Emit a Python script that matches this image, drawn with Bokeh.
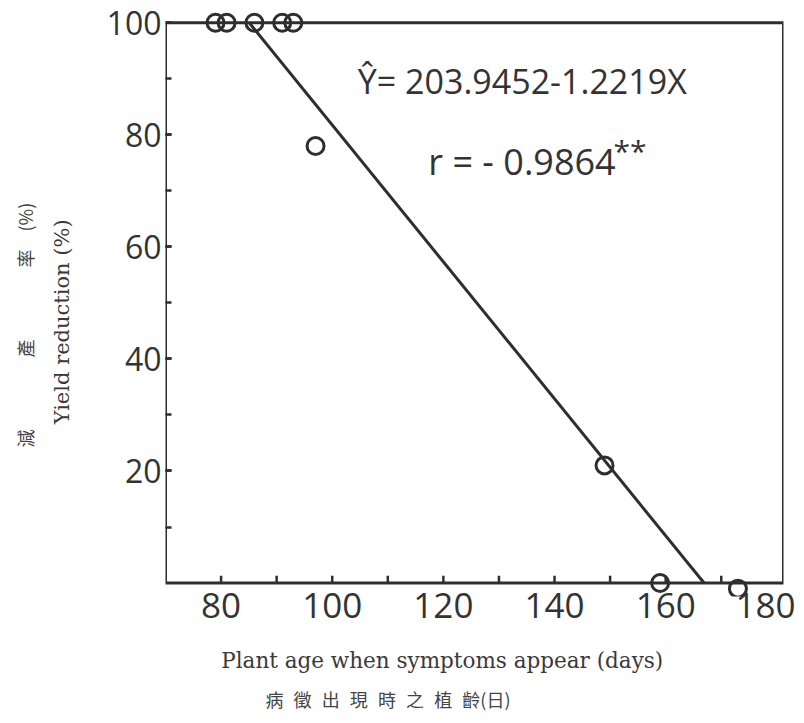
import math
from bokeh.plotting import figure
from bokeh.models import (Range1d, FixedTicker, BoxAnnotation, Label, Title, ColumnDataSource)
from bokeh.embed import file_html
from bokeh.resources import INLINE

# ---- data ----
plant_age = [79, 81, 86, 91, 93, 97, 149, 159, 173]
yield_reduction = [100, 100, 100, 100, 100, 78, 21, 0, -1]

intercept = 203.9452
slope = -1.2219

x_major_ticks = [80, 100, 120, 140, 160, 180]
x_minor_ticks = [80, 90, 100, 110, 120, 130, 140, 150, 160, 170]
y_major_ticks = [20, 40, 60, 80, 100]
y_minor_ticks = [10, 20, 30, 40, 50, 60, 70, 80, 90]

X_MIN, X_MAX = 70, 181.2
Y_MIN, Y_MAX = 0, 100

equation_text = "Ŷ= 203.9452-1.2219X"
r_text = "r = - 0.9864"
signif_text = "**"
x_title = "Plant age when symptoms appear (days)"
x_title_zh = "病\u2002\u200a徵\u2002\u200a出\u2002\u200a現\u2002\u200a時\u2002\u200a之\u2002\u200a植\u2002\u200a齡(日)"
y_title = "Yield reduction (%)"
y_title_zh = "減\u2003\u2003\u2003\u2003產\u2003\u2003\u2003\u2003率\u2003(%)"

INK = "#2e2e2e"
TXT = "#333333"

p = figure(frame_width=618, frame_height=585,
           x_range=Range1d(X_MIN, X_MAX), y_range=Range1d(-2.4, 102),
           output_backend="svg", toolbar_location=None,
           min_border_left=165, min_border_right=12, min_border_top=11, min_border_bottom=110,
           background_fill_color="white", border_fill_color="white")
p.outline_line_color = None
p.grid.visible = False

# box
box = BoxAnnotation(left=X_MIN, right=X_MAX, bottom=Y_MIN, top=Y_MAX,
                    fill_color=None, line_color=INK, line_alpha=1.0, line_width=3,
                    level="underlay")
p.add_layout(box)

# x axis
p.xaxis.ticker = FixedTicker(ticks=x_major_ticks)
p.xaxis.axis_line_color = None
p.xaxis.major_tick_line_color = None
p.xaxis.minor_tick_line_color = None
p.xaxis.major_label_text_font = "Open Sans"
p.xaxis.major_label_text_font_size = "35px"
p.xaxis.major_label_text_color = TXT
p.xaxis.major_label_standoff = -10
# English title; trailing spaces shift its visible part to the left like the reference
p.xaxis.axis_label = x_title + "\u2002" * 6
p.xaxis.axis_label_text_font = "DejaVu Serif"
p.xaxis.axis_label_text_font_size = "21.5px"
p.xaxis.axis_label_text_font_style = "normal"
p.xaxis.axis_label_text_color = "#3a3a3a"
p.xaxis.axis_label_standoff = 27

# x ticks drawn at the box bottom, pointing inward
p.segment(x0=x_minor_ticks, y0=[Y_MIN] * len(x_minor_ticks),
          x1=x_minor_ticks, y1=[Y_MIN + 1.3] * len(x_minor_ticks),
          line_color=INK, line_width=2.5)

# y axis
p.yaxis.ticker = FixedTicker(ticks=y_major_ticks, minor_ticks=y_minor_ticks)
p.yaxis.axis_line_color = None
p.yaxis.major_tick_in = 6
p.yaxis.major_tick_out = 0
p.yaxis.minor_tick_in = 6
p.yaxis.minor_tick_out = 0
p.yaxis.major_tick_line_color = INK
p.yaxis.minor_tick_line_color = INK
p.yaxis.major_tick_line_width = 2.5
p.yaxis.minor_tick_line_width = 2.5
p.yaxis.major_label_text_font = "Open Sans"
p.yaxis.major_label_text_font_size = "32px"
p.yaxis.major_label_text_color = TXT
p.yaxis.major_label_standoff = 4
p.yaxis.axis_label = y_title + "\u2002\u2002\u2002\u2009"
p.yaxis.axis_label_text_font = "DejaVu Serif"
p.yaxis.axis_label_text_font_size = "21px"
p.yaxis.axis_label_text_font_style = "normal"
p.yaxis.axis_label_text_color = "#3a3a3a"
p.yaxis.axis_label_standoff = 30

# regression line from the equation
x_start = (intercept - Y_MAX) / -slope
x_end = (intercept - Y_MIN) / -slope
p.line(x=[x_start, x_end], y=[intercept + slope * x_start, intercept + slope * x_end],
       line_color=INK, line_width=3)

# observations
src = ColumnDataSource(dict(x=plant_age, y=yield_reduction))
p.scatter(x="x", y="y", source=src, marker="circle", size=17,
          fill_color="white", fill_alpha=0.0, line_color=INK, line_width=3)

# annotations inside the frame
p.add_layout(Label(x=104.6, y=89.6, text=equation_text, text_font="Open Sans",
                   text_font_size="34px", text_color=TXT, text_baseline="middle"))
p.add_layout(Label(x=117.3, y=75.3, text=r_text, text_font="Open Sans",
                   text_font_size="36px", text_color=TXT, text_baseline="middle"))
p.add_layout(Label(x=150.6, y=77.2, text=signif_text, text_font="Open Sans",
                   text_font_size="30px", text_color=TXT, text_baseline="middle"))

# Chinese titles around the frame
p.add_layout(Title(text=x_title_zh, align="left", offset=100, standoff=16,
                   text_font="Noto Sans CJK TC", text_font_size="18px",
                   text_font_style="normal", text_color="#444444"), "below")
p.add_layout(Title(text=y_title_zh, align="left", offset=149, standoff=18,
                   text_font="Noto Sans CJK TC", text_font_size="18px",
                   text_font_style="normal", text_color="#444444"), "left")

open("out.html", "w").write(file_html(p, INLINE))
